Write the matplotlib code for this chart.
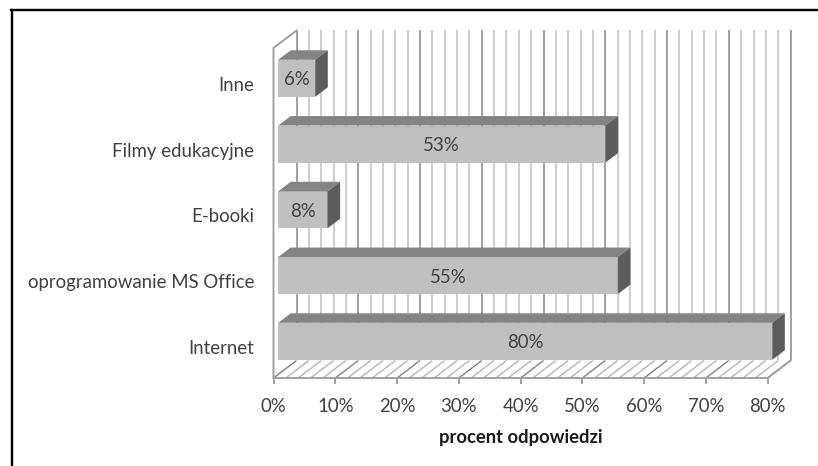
import numpy as np
import matplotlib
matplotlib.use("Agg")
import matplotlib.pyplot as plt
from matplotlib.lines import Line2D
from matplotlib.patches import Polygon
from matplotlib.transforms import ScaledTranslation

# dane -------------------------------------------------------------------

kategorie = ["Internet", "oprogramowanie MS Office", "E-booki", "Filmy edukacyjne", "Inne"]
wartosci = [80, 55, 8, 53, 6]
xticki = [0, 10, 20, 30, 40, 50, 60, 70, 80]
xlabel = "procent odpowiedzi"

# styl -------------------------------------------------------------------

W, H = 818, 466
X0, X80 = 273.5, 767.6       # piksele osi x
Y_BOT, Y_TOP = 378.0, 48.0   # przednia krawedz wykresu
Y_CAT0 = 341.3               # srodek pierwszej kategorii
KROK_Y = 65.75               # pikseli na kategorie
PX_X = (X80 - X0) / 80.0

DX = 23.0 / PX_X             # glebokosc sciany tylnej
DY = 17.5 / KROK_Y
BAR_DX = 12.6 / PX_X         # glebokosc slupka
BAR_DY = 9.5 / KROK_Y
BAR_X0 = 0.75
BAR_H = 37.0 / KROK_Y

C_DARK = "#a0a0a0"
C_LIGHT = "#cdcdcd"
C_TEXT = "#404040"
LW = 1.4
FS = 13.4

plt.rcParams["font.family"] = ["Lato", "DejaVu Sans"]

fig = plt.figure(figsize=(W / 100, H / 100), dpi=100, facecolor="white")
ax = fig.add_axes([X0 / W, 1 - Y_BOT / H, (X80 - X0) / W, (Y_BOT - Y_TOP) / H])
ax.patch.set_alpha(0)

y_dol = (Y_CAT0 - Y_BOT) / KROK_Y
y_gora = (Y_CAT0 - Y_TOP) / KROK_Y
ax.set_xlim(0, 80)
ax.set_ylim(y_dol, y_gora)

# sciany i siatka --------------------------------------------------------

for x in range(0, 81, 2):
    kolor = C_DARK if x % 10 == 0 else C_LIGHT
    ax.plot([x + DX, x + DX], [y_dol + DY, y_gora + DY], color=kolor, lw=LW,
            clip_on=False, zorder=1, solid_capstyle="butt")
    ax.plot([x, x + DX], [y_dol, y_dol + DY],
            color="#808080" if x % 10 == 0 else "#b4b4b4", lw=1.0,
            clip_on=False, zorder=1, solid_capstyle="butt")

ax.plot([0, 0, DX], [y_dol, y_gora, y_gora + DY], color=C_DARK, lw=LW,
        clip_on=False, zorder=2, solid_joinstyle="miter")
ax.plot([80, 80 + DX], [y_dol, y_dol + DY], color=C_DARK, lw=LW,
        clip_on=False, zorder=2)

# slupki -----------------------------------------------------------------

pozycje = np.arange(len(kategorie))
ax.barh(pozycje, wartosci, left=BAR_X0, height=BAR_H, color="#c0c0c0",
        zorder=3, clip_on=False)

for y, v in zip(pozycje, wartosci):
    prawa = BAR_X0 + v
    gora = y + BAR_H / 2
    dol = y - BAR_H / 2
    ax.add_patch(Polygon([(BAR_X0, gora), (prawa, gora),
                          (prawa + BAR_DX, gora + BAR_DY), (BAR_X0 + BAR_DX, gora + BAR_DY)],
                         facecolor="#848484", edgecolor="none", zorder=3, clip_on=False))
    ax.add_patch(Polygon([(prawa, dol), (prawa + BAR_DX, dol + BAR_DY),
                          (prawa + BAR_DX, gora + BAR_DY), (prawa, gora)],
                         facecolor="#5c5c5c", edgecolor="none", zorder=3, clip_on=False))
    ax.annotate(f"{v}%", (BAR_X0 + v / 2, y), xytext=(0, -1.1), textcoords="offset points",
                ha="center", va="center", fontsize=FS, color=C_TEXT, zorder=5)

# osie -------------------------------------------------------------------

for s in ("top", "right"):
    ax.spines[s].set_visible(False)
ax.spines["left"].set_visible(False)
ax.spines["bottom"].set_color(C_DARK)
ax.spines["bottom"].set_linewidth(LW)

ax.set_xticks(xticki)
ax.set_xticklabels([f"{x}%" for x in xticki])
ax.set_yticks(pozycje)
ax.set_yticklabels(kategorie)
ax.tick_params(axis="x", length=4.3, width=LW, color=C_DARK, labelsize=FS,
               labelcolor=C_TEXT, pad=10)
ax.tick_params(axis="y", length=0, labelsize=FS, labelcolor=C_TEXT, pad=14)
ax.set_xlabel(xlabel, fontsize=13.2, fontweight="bold", color="#1a1a1a", labelpad=10)

# etykiety kategorii leza nizej niz slupki
przesun = ScaledTranslation(0, -5.5 / 100, fig.dpi_scale_trans)
for lab in ax.get_yticklabels():
    lab.set_transform(lab.get_transform() + przesun)

# ramka obrazka ----------------------------------------------------------

fig.add_artist(Line2D([12 / W, 12 / W], [0, 1 - 10 / H], color="black", lw=1.7))
fig.add_artist(Line2D([11 / W, 1], [1 - 10 / H, 1 - 10 / H], color="black", lw=1.7))

fig.savefig("out.png", dpi=100)
